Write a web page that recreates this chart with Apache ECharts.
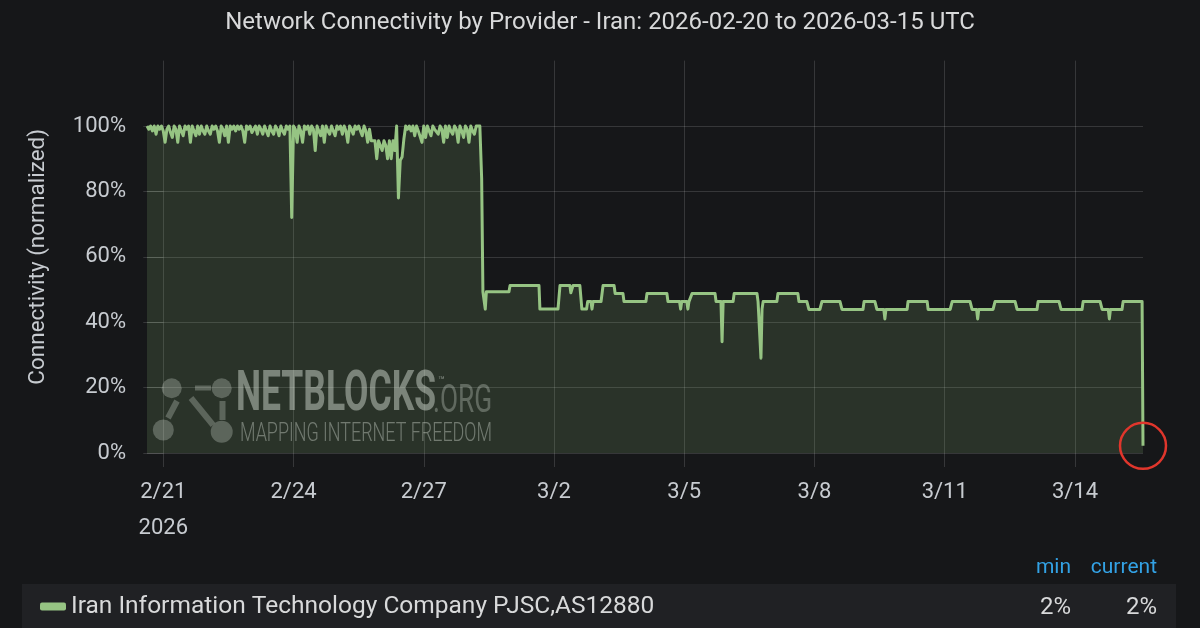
<!DOCTYPE html>
<html><head><meta charset="utf-8">
<script src="https://cdn.jsdelivr.net/npm/echarts@6/dist/echarts.min.js"></script>
<style>html,body{margin:0;padding:0;background:#161719;}#c{width:1200px;height:628px;}</style>
</head><body><div id="c"></div>
<script>
const chartTitle = 'Network Connectivity by Provider - Iran: 2026-02-20 to 2026-03-15 UTC';
const seriesName = 'Iran Information Technology Company PJSC,AS12880';
const yAxisName = 'Connectivity (normalized)';
// hour offsets are counted from 2026-02-21 00:00 UTC
const originUTC = Date.UTC(2026, 1, 21, 0, 0);

// hourly connectivity % before the 2/28 cut, starting at hour -9 (2026-02-20 15:00 UTC)
const beforeCutStartHour = -9;
const beforeCutHourly = [
  100,99,100,98.5,100,97.5,100,99,100,98.5,
  95,99,100,98,96.5,100,99,95,100,98.5,
  97,100,99,100,95,100,98.5,97,100,97.5,
  100,98.5,97.5,100,98.5,97.5,100,99,100,98.5,
  95,100,99,97,100,95,100,99,100,98.5,
  100,99,100,98.5,95,100,99,100,98,97.5,
  100,97.5,100,99,97.5,100,98.5,97,100,98.5,
  97.5,100,99,97,100,98.5,97.5,100,99,100,
  72,100,99,95,100,98.5,95,100,99,100,
  97.5,100,99,92.5,100,98.5,97,100,95,100,
  98.5,97.5,100,98.5,97,100,99,100,97.5,100,
  98.5,95,100,99,97.5,100,99,100,98.5,97,
  100,98.5,95,99,95.5,95,95.5,90,95.5,96,
  92.5,95.5,94,90,95.5,90,95.5,92.5,100,78,
  89.5,90.5,96,100,99,100,98.5,100,97,100,
  98.5,99,95,100,96.5,100,98.5,97,100,99,
  98.5,97.5,100,99,95,100,96.5,100,98.5,97.5,
  100,99,95,100,98.5,96.5,100,99,95,100,
  98.5,97.5,100,100,100,84
];

// [hour offset, connectivity %] after the cut, up to the final drop
const afterCut = [
  [176.7,49.3],[177.4,49.3],[178.0,44],[178.6,49.3],[191.1,49.3],[191.7,51.2],
  [207.7,51.2],[208.2,44],[218.2,44],[219.3,51.2],[224.8,51.2],[225.3,49],
  [226.0,49],[226.5,51.2],[230.3,51.2],[231.4,44],[234.0,44],[234.6,46.3],
  [236.4,46.3],[237.0,44],[237.6,46.3],[242.0,46.3],[243.1,51.2],[249.2,51.2],
  [249.8,48.8],[254.1,48.8],[254.7,46.3],[266.8,46.3],[267.4,48.8],[278.4,48.8],
  [279.0,46.3],[285.4,46.3],[286.0,44],[286.6,46.3],[289.4,46.3],[290.0,44],
  [290.6,46.3],[291.7,46.3],[292.3,48.8],[305.0,48.8],[305.6,46.3],[308.3,46.3],
  [308.9,34],[309.5,46.3],[315.0,46.3],[315.6,48.8],[328.2,48.8],[328.8,46.3],
  [329.8,46.3],[330.4,29],[331.0,44],[331.6,46.3],[339.2,46.3],[339.8,48.8],
  [350.8,48.8],[351.4,46.3],[355.8,46.3],[356.9,43.9],[363.0,43.9],[364.1,46.3],
  [374.1,46.3],[375.2,43.9],[386.8,43.9],[387.4,46.3],[393.4,46.3],[394.5,43.9],
  [398.3,43.9],[398.9,41],[399.5,43.9],[411.2,43.9],[411.7,46.3],[422.3,46.3],
  [422.8,43.9],[435.0,43.9],[436.1,46.3],[446.0,46.3],[447.1,43.9],[449.6,43.9],
  [450.2,41],[450.8,43.9],[458.7,43.9],[459.8,46.3],[470.9,46.3],[472.0,43.9],
  [483.0,43.9],[483.6,46.3],[495.2,46.3],[496.3,43.9],[507.9,43.9],[508.5,46.3],
  [517.9,46.3],[519.0,43.9],[522.4,43.9],[523.0,41],[523.6,43.9],[530.0,43.9],
  [530.6,46.3],[541.1,46.3],[541.6,2.2]
];

const xTickDates = ['2026-02-21','2026-02-24','2026-02-27','2026-03-02','2026-03-05','2026-03-08','2026-03-11','2026-03-14'];
const yTickValues = [0, 20, 40, 60, 80, 100];
const yMax = 120;
const statHeaders = ['min', 'current'];

const HOUR = 3600000;
const seriesData = beforeCutHourly.map((v, i) => [beforeCutStartHour + i, v]).concat(afterCut);
const xTicks = xTickDates.map(d => (Date.parse(d + 'T00:00:00Z') - originUTC) / HOUR);
const lastPoint = seriesData[seriesData.length - 1];
const minVal = Math.min.apply(null, seriesData.map(p => p[1]));
const curVal = lastPoint[1];

const FONT = 'Roboto';
const LINE = '#96c483';
const GRID = 'rgba(255,255,255,0.14)';
const LABEL = '#c7cbd0';

// horizontal scale so a watermark word spans a target width
const measureCtx = document.createElement('canvas').getContext('2d');
function fitScale(text, font, width) { measureCtx.font = font; return width / measureCtx.measureText(text).width; }
const WM = 'rgba(255,255,255,0.26)';
const wmText = (text, font, x, y, width, fill) => ({
  type: 'text', x: x, y: y, scaleX: fitScale(text, font, width),
  style: {text: text, font: font, fill: fill, textVerticalAlign: 'middle'}
});

const chart = echarts.init(document.getElementById('c'), null, {renderer: 'canvas'});
chart.setOption({
  backgroundColor: '#161719',
  animation: false,
  title: {
    text: chartTitle, left: 'center', top: 6,
    textStyle: {color: '#d8d9da', fontSize: 24, fontWeight: 'normal', fontFamily: FONT}
  },
  grid: {left: 147, right: 57, top: 60.6, bottom: 175, containLabel: false},
  xAxis: {
    type: 'value',
    min: seriesData[0][0], max: lastPoint[0],
    axisLine: {show: false},
    axisTick: {show: true, customValues: xTicks, length: 14, lineStyle: {color: GRID}},
    splitLine: {show: true, lineStyle: {color: GRID, width: 1}},
    axisLabel: {
      customValues: xTicks, color: LABEL, fontSize: 22, fontFamily: FONT,
      lineHeight: 36, margin: 21, hideOverlap: false, showMinLabel: true, showMaxLabel: true,
      formatter: function (v) {
        const d = new Date(originUTC + v * HOUR);
        const s = (d.getUTCMonth() + 1) + '/' + d.getUTCDate();
        return v === xTicks[0] ? s + '\n' + d.getUTCFullYear() : s;
      }
    }
  },
  yAxis: {
    type: 'value', min: 0, max: yMax,
    name: yAxisName, nameLocation: 'middle', nameRotate: 90, nameGap: 97,
    nameTextStyle: {color: LABEL, fontSize: 22.5, fontFamily: FONT},
    axisLine: {show: false},
    axisTick: {show: true, customValues: yTickValues, length: 20, lineStyle: {color: GRID}},
    splitLine: {show: true, lineStyle: {color: GRID, width: 1}},
    axisLabel: {
      customValues: yTickValues, color: LABEL, fontSize: 22, fontFamily: FONT, margin: 21,
      formatter: v => v + '%'
    }
  },
  legend: {
    data: [seriesName], left: 40, top: 594, padding: 0, selectedMode: false,
    icon: 'roundRect', itemWidth: 26, itemHeight: 8, itemGap: 20,
    textStyle: {color: '#d8d9da', fontSize: 24.5, fontFamily: FONT}
  },
  series: [{
    name: seriesName, type: 'line', data: seriesData,
    showSymbol: false, symbol: 'none', smooth: false,
    color: LINE,
    lineStyle: {color: LINE, width: 3, join: 'round'},
    areaStyle: {color: 'rgba(150,196,131,0.23)'},
    markPoint: {
      symbol: 'circle', symbolSize: 46, silent: true,
      itemStyle: {color: 'rgba(0,0,0,0)', borderColor: '#e0362c', borderWidth: 2.5},
      label: {show: false},
      data: [{coord: lastPoint}]
    }
  }],
  graphic: [
    {type: 'rect', z: -1, shape: {x: 22, y: 584, width: 1154, height: 50}, style: {fill: '#202124'}},
    {type: 'text', z: 10, x: 1071, y: 568, style: {text: statHeaders[0], fill: '#33a2e5', font: '21px Roboto', textAlign: 'right', textVerticalAlign: 'middle'}},
    {type: 'text', z: 10, x: 1157, y: 568, style: {text: statHeaders[1], fill: '#33a2e5', font: '21px Roboto', textAlign: 'right', textVerticalAlign: 'middle'}},
    {type: 'text', z: 10, x: 1071, y: 608, style: {text: Math.round(minVal) + '%', fill: '#d8d9da', font: '24px Roboto', textAlign: 'right', textVerticalAlign: 'middle'}},
    {type: 'text', z: 10, x: 1157, y: 608, style: {text: Math.round(curVal) + '%', fill: '#d8d9da', font: '24px Roboto', textAlign: 'right', textVerticalAlign: 'middle'}},
    {type: 'group', z: 50, children: [
      {type: 'line', shape: {x1: 195, y1: 388, x2: 211, y2: 388}, style: {stroke: WM, lineWidth: 5}},
      {type: 'line', shape: {x1: 191, y1: 398, x2: 213, y2: 425}, style: {stroke: WM, lineWidth: 6}},
      {type: 'line', shape: {x1: 168, y1: 418, x2: 177, y2: 401}, style: {stroke: WM, lineWidth: 6}},
      {type: 'line', shape: {x1: 222.5, y1: 401, x2: 222.5, y2: 420}, style: {stroke: WM, lineWidth: 6}},
      {type: 'circle', shape: {cx: 171.7, cy: 388.3, r: 10}, style: {fill: WM}},
      {type: 'circle', shape: {cx: 221.7, cy: 388.3, r: 10}, style: {fill: WM}},
      {type: 'circle', shape: {cx: 163.3, cy: 430, r: 10.5}, style: {fill: WM}},
      {type: 'circle', shape: {cx: 221.7, cy: 431.7, r: 11}, style: {fill: WM}},
      wmText('NETBLOCKS', 'bold 56px Roboto', 236, 396, 200, 'rgba(255,255,255,0.42)'),
      {type: 'text', x: 438, y: 381, style: {text: '™', font: '11px Roboto', fill: 'rgba(255,255,255,0.42)', textVerticalAlign: 'middle'}},
      wmText('.ORG', '38px Roboto', 433, 402, 59, 'rgba(255,255,255,0.28)'),
      wmText('MAPPING INTERNET FREEDOM', '300 25px Roboto', 240, 435, 252, 'rgba(255,255,255,0.36)')
    ]}
  ]
});
</script>
</body></html>
